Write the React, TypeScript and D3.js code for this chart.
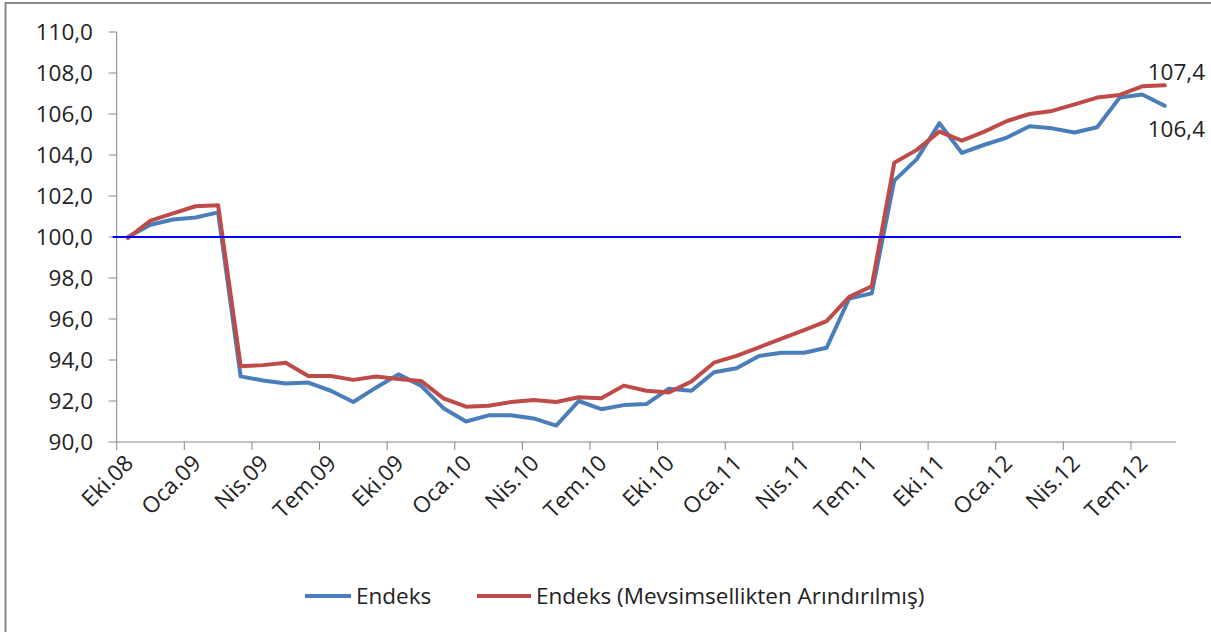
import React from "react";
import * as d3 from "d3";

const months = ["Eki.08","Kas.08","Ara.08","Oca.09","Şub.09","Mar.09","Nis.09","May.09","Haz.09","Tem.09","Ağu.09","Eyl.09","Eki.09","Kas.09","Ara.09","Oca.10","Şub.10","Mar.10","Nis.10","May.10","Haz.10","Tem.10","Ağu.10","Eyl.10","Eki.10","Kas.10","Ara.10","Oca.11","Şub.11","Mar.11","Nis.11","May.11","Haz.11","Tem.11","Ağu.11","Eyl.11","Eki.11","Kas.11","Ara.11","Oca.12","Şub.12","Mar.12","Nis.12","May.12","Haz.12","Tem.12","Ağu.12"];

const endeks = [100.0, 100.6, 100.85, 100.95, 101.2, 93.2, 93.0, 92.85, 92.9, 92.5, 91.95, 92.65, 93.3, 92.75, 91.65, 91.0, 91.3, 91.3, 91.15, 90.8, 92.0, 91.6, 91.8, 91.85, 92.6, 92.5, 93.4, 93.6, 94.2, 94.35, 94.35, 94.6, 97.0, 97.25, 102.75, 103.8, 105.55, 104.1, 104.5, 104.85, 105.4, 105.3, 105.1, 105.35, 106.8, 106.95, 106.4];

const endeksMA = [99.95, 100.8, 101.15, 101.5, 101.55, 93.7, 93.75, 93.87, 93.22, 93.22, 93.03, 93.2, 93.07, 92.98, 92.13, 91.72, 91.77, 91.95, 92.05, 91.95, 92.18, 92.13, 92.75, 92.5, 92.42, 92.95, 93.87, 94.2, 94.62, 95.04, 95.46, 95.9, 97.08, 97.6, 103.62, 104.25, 105.14, 104.7, 105.14, 105.66, 106.0, 106.15, 106.47, 106.8, 106.93, 107.35, 107.4];

const yTicks = [90, 92, 94, 96, 98, 100, 102, 104, 106, 108, 110];
const referenceLevel = 100;
const seriesNames = ["Endeks", "Endeks (Mevsimsellikten Arındırılmış)"];
const seriesColors = ["#4a7ebb", "#be4b48"];

const W = 1211;
const H = 632;
const FONT = "'Open Sans', sans-serif";
const FS = 22.5;

export default function App() {
  const x = d3.scaleBand<string>().domain(months).range([116.7, 1176]).paddingInner(0).paddingOuter(0);
  const y = d3.scaleLinear().domain([90, 110]).range([442, 32]);
  const bw = x.bandwidth();
  const cx = (m: string) => (x(m) as number) + bw / 2;
  const line = d3.line<number>().x((_, i) => cx(months[i])).y((v) => y(v));

  const [x0, x1] = x.range();
  const yBase = y(90);
  const tickIdx = months.map((_, i) => i).filter((i) => i % 3 === 0);
  const last = months.length - 1;
  const lastX = cx(months[last]);
  const fmt = (v: number) => d3.format(".1f")(v).replace(".", ",");

  return (
    <svg width={W} height={H} style={{ position: "absolute", left: 0, top: 0, background: "#fff", display: "block" }} fontFamily={FONT}>
      <rect x={0} y={0} width={W} height={H} fill="#fff" />
      <rect x={5.5} y={3} width={W + 10} height={H + 10} fill="none" stroke="#8a8a8a" strokeWidth={2} />

      {/* Y axis */}
      <line x1={x0} x2={x0} y1={y(110)} y2={yBase} stroke="#868686" strokeWidth={1} />
      {yTicks.map((t) => (
        <g key={t}>
          <line x1={x0 - 8} x2={x0} y1={y(t)} y2={y(t)} stroke="#868686" />
          <text x={93} y={y(t)} dy="0.36em" textAnchor="end" fontSize={FS} fill="#222">
            {fmt(t)}
          </text>
        </g>
      ))}

      {/* X axis */}
      <line x1={x0} x2={x1} y1={yBase} y2={yBase} stroke="#868686" strokeWidth={1} />
      {tickIdx.map((i) => (
        <line key={"t" + i} x1={x(months[i]) as number} x2={x(months[i]) as number} y1={yBase} y2={yBase + 8} stroke="#868686" />
      ))}
      {tickIdx.map((i) => (
        <text
          key={"l" + i}
          transform={`translate(${cx(months[i]) + 1},${yBase + 17}) rotate(-45)`}
          textAnchor="end"
          dy="0.36em"
          fontSize={FS}
          fill="#222"
        >
          {months[i]}
        </text>
      ))}

      {/* Series */}
      <path d={line(endeks) as string} fill="none" stroke={seriesColors[0]} strokeWidth={4} strokeLinejoin="round" strokeLinecap="round" />
      <path d={line(endeksMA) as string} fill="none" stroke={seriesColors[1]} strokeWidth={4} strokeLinejoin="round" strokeLinecap="round" />

      {/* Reference line at 100 */}
      <line x1={x0 - 4} x2={x1 + 5} y1={y(referenceLevel)} y2={y(referenceLevel)} stroke="#0000ff" strokeWidth={2} />

      {/* Data labels */}
      <text x={lastX - 17} y={y(endeksMA[last]) - 13} dy="0.36em" fontSize={FS} fill="#222">
        {fmt(endeksMA[last])}
      </text>
      <text x={lastX - 17} y={y(endeks[last]) + 23} dy="0.36em" fontSize={FS} fill="#222">
        {fmt(endeks[last])}
      </text>

      {/* Legend */}
      <line x1={305} x2={351} y1={596} y2={596} stroke={seriesColors[0]} strokeWidth={4} />
      <text x={356} y={596} dy="0.36em" fontSize={FS} fill="#222">{seriesNames[0]}</text>
      <line x1={477} x2={531} y1={596} y2={596} stroke={seriesColors[1]} strokeWidth={4} />
      <text x={536} y={596} dy="0.36em" fontSize={FS} fill="#222">{seriesNames[1]}</text>
    </svg>
  );
}
